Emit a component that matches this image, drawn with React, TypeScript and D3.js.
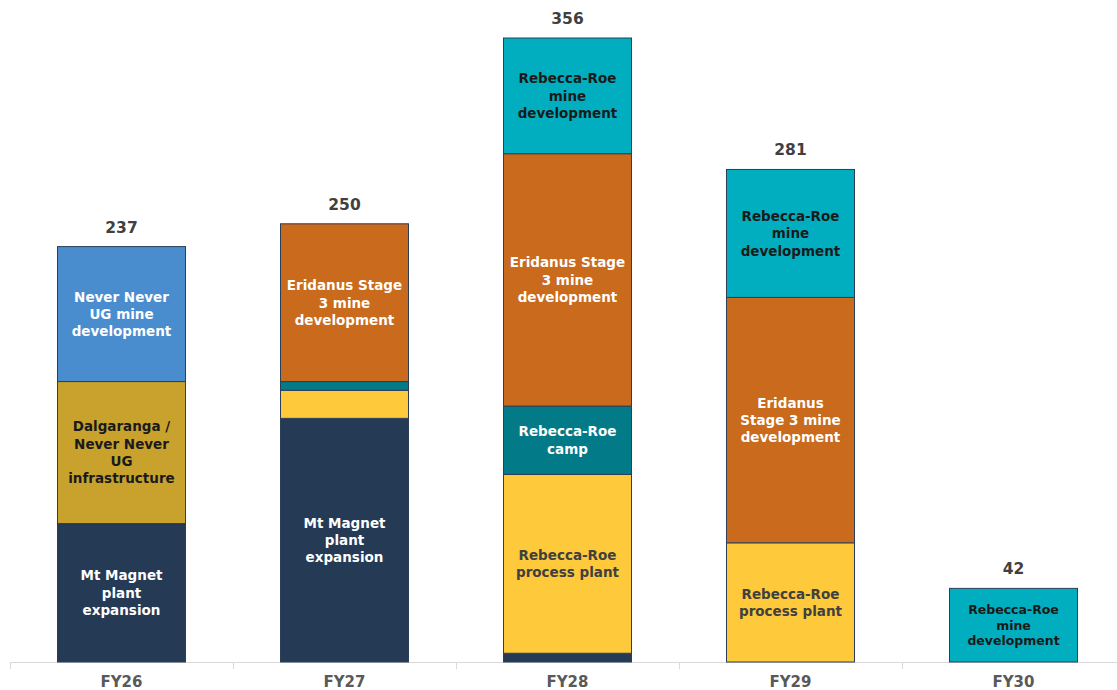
import * as d3 from 'd3';
import { useEffect, useRef } from 'react';

// categories along the x axis
const categories = ['FY26', 'FY27', 'FY28', 'FY29', 'FY30'];
const totals = [237, 250, 356, 281, 42];

// stacked series, bottom to top
const seriesNames = [
  'Mt Magnet plant expansion',
  'Dalgaranga / Never Never UG infrastructure',
  'Rebecca-Roe process plant',
  'Rebecca-Roe camp',
  'Never Never UG mine development',
  'Eridanus Stage 3 mine development',
  'Rebecca-Roe mine development',
];
const mtMagnet = [79, 139, 5, 0, 0];
const dalgaranga = [81, 0, 0, 0, 0];
const rrPlant = [0, 16, 102, 68, 0];
const rrCamp = [0, 5, 39, 0, 0];
const neverNever = [77, 0, 0, 0, 0];
const eridanus = [0, 90, 144, 140, 0];
const rrMine = [0, 0, 66, 73, 42];
const seriesValues = [mtMagnet, dalgaranga, rrPlant, rrCamp, neverNever, eridanus, rrMine];

// in-bar labels, "|" marks a line break, empty = no label
const segLabels = [
  ['Mt Magnet|plant|expansion', 'Mt Magnet|plant|expansion', '', '', ''],
  ['Dalgaranga /|Never Never|UG|infrastructure', '', '', '', ''],
  ['', '', 'Rebecca-Roe|process plant', 'Rebecca-Roe|process plant', ''],
  ['', '', 'Rebecca-Roe|camp', '', ''],
  ['Never Never|UG mine|development', '', '', '', ''],
  ['', 'Eridanus Stage|3 mine|development', 'Eridanus Stage|3 mine|development', 'Eridanus|Stage 3 mine|development', ''],
  ['', '', 'Rebecca-Roe|mine|development', 'Rebecca-Roe|mine|development', 'Rebecca-Roe|mine|development'],
];

const fills = ['#243a55', '#c9a22e', '#fec93a', '#037a87', '#4a8dcf', '#c96a1c', '#00aebf'];
const textFills = ['#ffffff', '#1a1a1a', '#404040', '#ffffff', '#ffffff', '#ffffff', '#1a1a1a'];

const font = "'DejaVu Sans', sans-serif";

export default function App() {
  const svgRef = useRef<SVGSVGElement>(null);

  useEffect(() => {
    const svg = d3.select(svgRef.current);
    svg.selectAll('*').remove();

    const width = 1117;
    const height = 690;
    const baseY = 662;

    const x = d3.scaleBand<string>()
      .domain(categories)
      .range([10, 10 + 223 * categories.length])
      .paddingInner(0.426)
      .paddingOuter(0.213);

    const y = d3.scaleLinear()
      .domain([0, d3.max(totals) as number])
      .range([baseY, 38]);

    const rows = categories.map((c, i) => {
      const r: any = { cat: c };
      seriesNames.forEach((s, k) => { r[s] = seriesValues[k][i]; });
      return r;
    });
    const stacked = d3.stack<any>().keys(seriesNames)(rows);

    // axis
    const axisG = svg.append('g');
    axisG.append('line')
      .attr('x1', 10).attr('x2', width)
      .attr('y1', baseY + 0.5).attr('y2', baseY + 0.5)
      .attr('stroke', '#d9d9d9').attr('stroke-width', 1);
    const step = x.step();
    d3.range(categories.length + 1).forEach(i => {
      const tx = Math.round(10 + i * step) + 0.5;
      axisG.append('line')
        .attr('x1', tx).attr('x2', tx)
        .attr('y1', baseY).attr('y2', baseY + 7)
        .attr('stroke', '#d9d9d9');
    });

    stacked.forEach((layer, k) => {
      const g = svg.append('g');
      layer.forEach((d, i) => {
        const v = d[1] - d[0];
        if (v <= 0) return;
        const x0 = x(categories[i]) as number;
        const y0 = y(d[1]);
        const y1 = y(d[0]);
        g.append('rect')
          .attr('x', x0)
          .attr('y', y0)
          .attr('width', x.bandwidth())
          .attr('height', y1 - y0)
          .attr('fill', fills[k])
          .attr('stroke', '#2b3f5a')
          .attr('stroke-width', 1);

        const lab = segLabels[k][i];
        if (lab) {
          const lines = lab.split('|');
          const small = categories[i] === 'FY30';
          const fs = small ? 12.5 : 13.5;
          const lh = small ? 15.5 : 17.3;
          const cy = (y0 + y1) / 2;
          const t = g.append('text')
            .attr('x', x0 + x.bandwidth() / 2)
            .attr('text-anchor', 'middle')
            .attr('font-family', font)
            .attr('font-weight', 700)
            .attr('font-size', fs)
            .attr('fill', textFills[k]);
          lines.forEach((ln, j) => {
            t.append('tspan')
              .attr('x', x0 + x.bandwidth() / 2)
              .attr('y', cy + (j - (lines.length - 1) / 2) * lh + fs * 0.36)
              .text(ln);
          });
        }
      });
    });

    // totals
    svg.append('g').selectAll('text')
      .data(totals)
      .join('text')
      .attr('x', (d, i) => (x(categories[i]) as number) + x.bandwidth() / 2)
      .attr('y', d => y(d) - 14)
      .attr('text-anchor', 'middle')
      .attr('font-family', font)
      .attr('font-weight', 700)
      .attr('font-size', 15.5)
      .attr('fill', '#404040')
      .text(d => d);

    // category labels
    svg.append('g').selectAll('text')
      .data(categories)
      .join('text')
      .attr('x', d => (x(d) as number) + x.bandwidth() / 2)
      .attr('y', 687)
      .attr('text-anchor', 'middle')
      .attr('font-family', font)
      .attr('font-weight', 700)
      .attr('font-size', 15)
      .attr('fill', '#595959')
      .text(d => d);

    svg.attr('width', width).attr('height', height);
  }, []);

  return (
    <svg
      ref={svgRef}
      width={1117}
      height={690}
      style={{ position: 'absolute', left: 0, top: 0, background: '#ffffff' }}
    />
  );
}
